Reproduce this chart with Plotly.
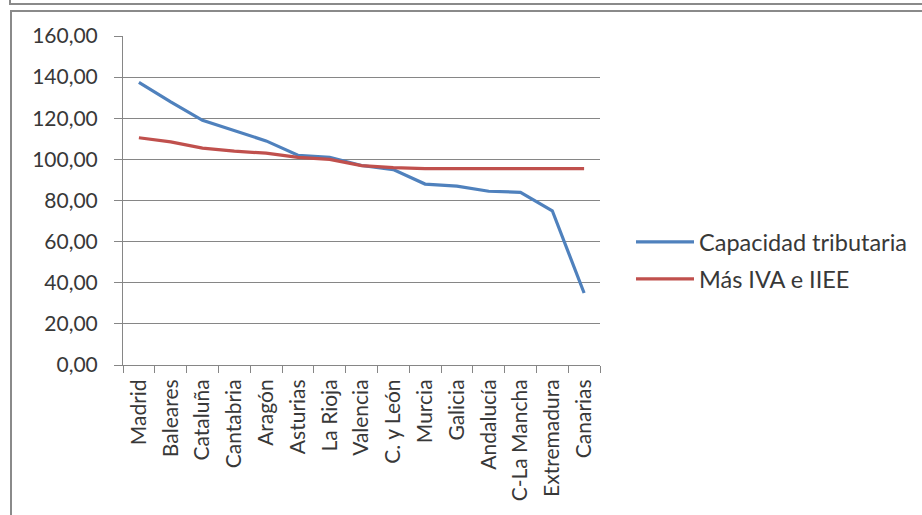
import plotly.graph_objects as go

regions = ["Madrid", "Baleares", "Cataluña", "Cantabria", "Aragón", "Asturias",
           "La Rioja", "Valencia", "C. y León", "Murcia", "Galicia", "Andalucía",
           "C-La Mancha", "Extremadura", "Canarias"]
capacidad = [137.5, 128.0, 119.0, 114.0, 109.0, 102.0, 101.0, 97.0, 95.0,
             88.0, 87.0, 84.5, 84.0, 75.0, 35.0]
mas_iva = [110.5, 108.5, 105.5, 104.0, 103.0, 101.0, 100.0, 97.0, 96.0,
           95.5, 95.5, 95.5, 95.5, 95.5, 95.5]
y_ticks = [0, 20, 40, 60, 80, 100, 120, 140, 160]

W, H = 922, 515
L, R, T, B = 123, 600, 36, 365
FONT = "Lato"
TXT = "#383838"
BORDER = "#8a8a8a"


def px(x):
    return (x - L) / (R - L)


def py(y):
    return (B - y) / (B - T)


fig = go.Figure()
fig.add_trace(go.Scatter(x=regions, y=capacidad, mode="lines",
                         name="Capacidad tributaria",
                         line=dict(color="#4F81BD", width=3.2), legend="legend"))
fig.add_trace(go.Scatter(x=regions, y=mas_iva, mode="lines",
                         name="Más IVA e IIEE",
                         line=dict(color="#C0504D", width=3.2), legend="legend2"))

leg_common = dict(font=dict(family=FONT, size=23.5, color=TXT), bgcolor="rgba(0,0,0,0)",
                  itemwidth=58, xanchor="left", yanchor="middle", tracegroupgap=0)
fig.update_layout(
    width=W, height=H,
    margin=dict(l=L, r=W - R, t=T, b=H - B, autoexpand=False),
    paper_bgcolor="white", plot_bgcolor="white",
    font=dict(family=FONT, size=20, color=TXT),
    separators=",.",
    showlegend=True,
    legend=dict(x=px(631), y=py(242), **leg_common),
    legend2=dict(x=px(631), y=py(279), **leg_common),
    xaxis=dict(type="category", tickangle=-90, showgrid=False, showline=True,
               linecolor="#868686", linewidth=1, ticks="outside", ticklen=7,
               tickcolor="#868686", tickson="boundaries", ticklabelstandoff=5,
               tickfont=dict(family=FONT, size=21, color=TXT),
               range=[-0.5, len(regions) - 0.5]),
    yaxis=dict(range=[0, 160], tickvals=y_ticks, tickformat=".2f",
               showgrid=True, gridcolor="#868686", gridwidth=1,
               showline=True, linecolor="#868686", linewidth=1,
               ticks="outside", ticklen=8, tickcolor="#868686",
               ticklabelstandoff=12, zeroline=False,
               tickfont=dict(family=FONT, size=21, color=TXT)),
    shapes=[
        # upper (previous) frame, only its bottom edge visible
        dict(type="rect", xref="paper", yref="paper", layer="above",
             x0=px(10), x1=px(940), y0=py(4), y1=py(-20),
             line=dict(color=BORDER, width=2), fillcolor="rgba(0,0,0,0)"),
        # chart frame
        dict(type="rect", xref="paper", yref="paper", layer="above",
             x0=px(11), x1=px(940), y0=py(540), y1=py(11),
             line=dict(color=BORDER, width=2), fillcolor="rgba(0,0,0,0)"),
    ],
)

fig.write_html("out.html", config={"displayModeBar": False},
               post_script="document.body.style.margin='0';")
